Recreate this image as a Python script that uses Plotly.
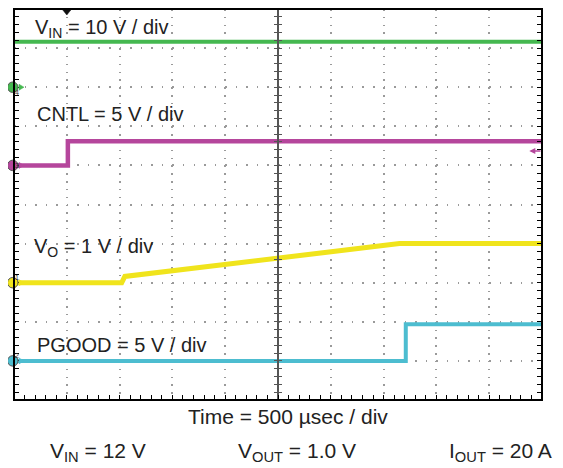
import plotly.graph_objects as go

# Scope screen: 10 x 10 divisions, 500 usec / div
T_PER_DIV = 500
N_DIV = 10

# Channel settings (volts per division, ground position in divisions from bottom)
CH_SCALE = {"vo": 1, "pgood": 5, "cntl": 5, "vin": 10}
CH_GROUND = {"vo": 3, "pgood": 1, "cntl": 6, "vin": 8}

# Waveforms (time in usec, value in volts)
vin_t = [0, 5000]
vin_v = [11.6, 11.6]

cntl_t = [0, 510, 510, 5000]
cntl_v = [0, 0, 3.1, 3.1]

vo_t = [0, 1020, 1050, 3650, 5000]
vo_v = [0, 0, 0.16, 1.0, 1.0]

pgood_t = [0, 3710, 3710, 5000]
pgood_v = [0, 0, 4.7, 4.7]

TRIG_TIME = 500
TRIG_LEVEL = 1.84  # CNTL volts

GREEN = "#45b850"
MAGENTA = "#b5469c"
YELLOW = "#f0e41c"
CYAN = "#4dbdd0"
FONT = "Liberation Sans, Arial, sans-serif"


def ch_range(ch):
    s, g = CH_SCALE[ch], CH_GROUND[ch]
    return [-g * s, (N_DIV - g) * s]


fig = go.Figure()

channels = [
    ("vin", "y4", vin_t, vin_v, GREEN, 4, "4"),
    ("cntl", "y3", cntl_t, cntl_v, MAGENTA, 4.5, "3"),
    ("vo", "y", vo_t, vo_v, YELLOW, 5, "1"),
    ("pgood", "y2", pgood_t, pgood_v, CYAN, 4, "2"),
]

for ch, yax, t, v, color, w, num in channels:
    fig.add_trace(
        go.Scatter(
            x=t, y=v, yaxis=yax, mode="lines",
            line=dict(color=color, width=w), showlegend=False, hoverinfo="skip",
        )
    )
    # ground marker on the left edge: small circle + arrow
    gy = CH_GROUND[ch] / N_DIV
    fig.add_shape(
        type="circle", xref="paper", yref="paper", xsizemode="pixel", ysizemode="pixel",
        xanchor=0, yanchor=gy, x0=-6.5, x1=4, y0=-5.25, y1=5.25,
        fillcolor=color, line=dict(color="#555", width=1), layer="above",
    )
    fig.add_shape(
        type="path", xref="paper", yref="paper", xsizemode="pixel", ysizemode="pixel",
        xanchor=0, yanchor=gy, path="M 5,-3 L 10,0 L 5,3 Z",
        fillcolor=color, line=dict(color=color, width=0.5), layer="above",
    )
    fig.add_annotation(
        x=0, y=gy, xref="paper", yref="paper", xshift=-1.25, text=num, showarrow=False,
        font=dict(size=7, color="#333", family=FONT),
    )

# trigger level arrow on the right (CNTL channel)
fig.add_annotation(
    x=4880, y=TRIG_LEVEL, xref="x", yref="y3", ax=5000, ay=TRIG_LEVEL, axref="x", ayref="y3",
    showarrow=True, arrowhead=2, arrowsize=0.8, arrowwidth=1.5, arrowcolor=MAGENTA, text="",
)
# trigger position marker on top
fig.add_shape(
    type="path", xref="x", yref="paper", xsizemode="pixel", ysizemode="pixel",
    xanchor=TRIG_TIME, yanchor=1, path="M -4,-1 L 4,-1 L 0,-6 Z",
    fillcolor="#111", line=dict(color="#111", width=0.5), layer="above",
)

labels = [
    ("V<sub>IN</sub> = 10 V / div", 0.036, 0.951),
    ("CNTL = 5 V / div", 0.040, 0.731),
    ("V<sub>O</sub> = 1 V / div", 0.034, 0.389),
    ("PGOOD = 5 V / div", 0.040, 0.141),
]
for txt, x, y in labels:
    fig.add_annotation(
        x=x, y=y, xref="paper", yref="paper", xanchor="left", yanchor="middle",
        text=txt, showarrow=False, font=dict(size=20, color="#222", family=FONT),
    )

bottom = [
    ("Time = 500 µsec / div", 0.518, -0.041, "center"),
    ("V<sub>IN</sub> = 12 V", 0.064, -0.133, "left"),
    ("V<sub>OUT</sub> = 1.0 V", 0.536, -0.133, "center"),
    ("I<sub>OUT</sub> = 20 A", 0.820, -0.133, "left"),
]
for txt, x, y, anchor in bottom:
    fig.add_annotation(
        x=x, y=y, xref="paper", yref="paper", xanchor=anchor, yanchor="middle",
        text=txt, showarrow=False, font=dict(size=21, color="#222", family=FONT),
    )

# outer frame
fig.add_shape(
    type="rect", xref="paper", yref="paper", x0=0, x1=1, y0=0, y1=1,
    line=dict(color="black", width=2), layer="above",
)

x_rng = [0, N_DIV * T_PER_DIV]
border = dict(
    showline=False, ticks="inside", ticklen=5, tickcolor="black", tickwidth=1,
    showticklabels=False, zeroline=False,
)
center = dict(
    showline=True, linecolor="#555", linewidth=1.5, ticklen=3, tickcolor="#555",
    tickwidth=1, showticklabels=False, zeroline=False, showgrid=False,
    anchor="free", position=0.5,
)

fig.update_layout(
    # page body adds an 8px margin, so the figure is 8px smaller than the window
    width=555, height=460,
    margin=dict(l=6, r=21, t=1, b=68),
    paper_bgcolor="white", plot_bgcolor="white",
    xaxis=dict(
        range=x_rng, dtick=T_PER_DIV, griddash="1.5px,6.32px", gridcolor="#9a9a9a", gridwidth=1.5,
        minor=dict(dtick=T_PER_DIV / 5, ticks="inside", ticklen=5, tickcolor="black"),
        **border,
    ),
    xaxis4=dict(
        range=x_rng, dtick=T_PER_DIV, overlaying="x", side="top", anchor="y", showgrid=False,
        minor=dict(dtick=T_PER_DIV / 5, ticks="inside", ticklen=5, tickcolor="black"),
        **border,
    ),
    xaxis2=dict(
        range=x_rng, dtick=T_PER_DIV, overlaying="x", ticks="inside",
        minor=dict(dtick=T_PER_DIV / 5, ticks="inside", ticklen=3, tickcolor="#555"),
        **center,
    ),
    xaxis3=dict(
        range=x_rng, dtick=T_PER_DIV, overlaying="x", ticks="outside",
        minor=dict(dtick=T_PER_DIV / 5, ticks="outside", ticklen=3, tickcolor="#555"),
        **center,
    ),
    yaxis=dict(
        range=ch_range("vo"), dtick=CH_SCALE["vo"], griddash="1.5px,9.06px",
        gridcolor="#9a9a9a", gridwidth=1.5, mirror="ticks",
        minor=dict(dtick=CH_SCALE["vo"] / 5, ticks="inside", ticklen=5, tickcolor="black"),
        **border,
    ),
    yaxis2=dict(
        range=ch_range("pgood"), dtick=CH_SCALE["pgood"], overlaying="y", ticks="inside",
        minor=dict(dtick=CH_SCALE["pgood"] / 5, ticks="inside", ticklen=3, tickcolor="#555"),
        **center,
    ),
    yaxis3=dict(
        range=ch_range("cntl"), dtick=CH_SCALE["cntl"], overlaying="y", ticks="outside",
        minor=dict(dtick=CH_SCALE["cntl"] / 5, ticks="outside", ticklen=3, tickcolor="#555"),
        **center,
    ),
    yaxis4=dict(range=ch_range("vin"), overlaying="y", visible=False),
)

fig.write_html("out.html")
